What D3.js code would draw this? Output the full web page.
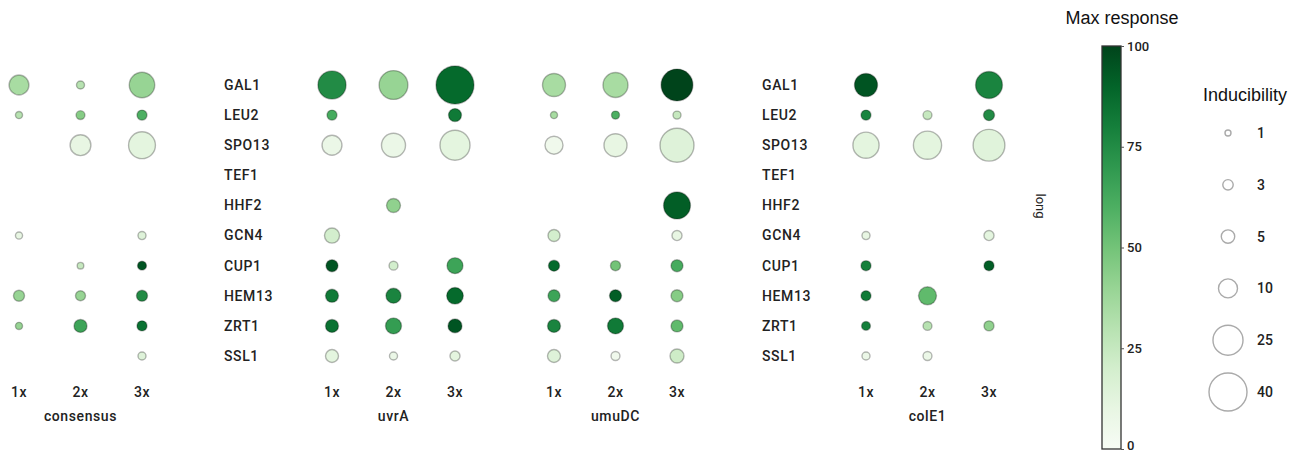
<!DOCTYPE html>
<html>
<head>
<meta charset="utf-8">
<script src="https://cdn.jsdelivr.net/npm/d3@7"></script>
<style>
  body { margin: 0; background: #fff; }
  svg { display: block; }
  .gene, .col, .panel, .leg-lab, .cbar-axis text { font-family: Roboto, "Noto Sans", sans-serif; fill: #222; }
  .gene { font-size: 14px; font-weight: 500; letter-spacing: 0.6px; }
  .col { font-size: 14px; font-weight: 500; letter-spacing: 0.6px; }
  .panel { font-size: 14px; font-weight: 500; letter-spacing: 0.6px; }
  .legtitle { font-family: "Liberation Sans", Arial, sans-serif; font-size: 18px; fill: #111; }
</style>
</head>
<body>
<div id="chart"></div>
<script>
// genes (rows) and conditions (columns per panel)
const genes = ["GAL1", "LEU2", "SPO13", "TEF1", "HHF2", "GCN4", "CUP1", "HEM13", "ZRT1", "SSL1"];
const copies = ["1x", "2x", "3x"];
const panelNames = ["consensus", "uvrA", "umuDC", "colE1"];

// inducibility (circle size), rows = genes, cols = 1x/2x/3x; null = no data
const consensusInd = [[11, 1.8, 18], [1.4, 2.2, 2.8], [null, 12, 20], [null, null, null], [null, null, null],
  [1.4, null, 1.8], [null, 1.2, 2.2], [3.4, 2.8, 3.4], [1.4, 4.7, 2.8], [null, null, 1.8]];
const uvrAInd = [[22, 23, 40], [2.8, null, 4.7], [11, 16, 25], [null, null, null], [null, 5.4, null],
  [6.3, null, null], [4, 2.2, 7.1], [4.7, 6.3, 7.7], [4.7, 7.1, 5.4], [4.7, 1.8, 2.8]];
const umuDCInd = [[14.7, 17.4, 28], [1.4, 1.8, 1.8], [9, 14.7, 32], [null, null, null], [null, null, 20],
  [4, null, 2.8], [3.4, 2.8, 4], [4, 4, 4], [4.7, 7.1, 4], [4.7, 2.2, 5.4]];
const colE1Ind = [[14.7, null, 20], [2.8, 2.2, 3.4], [19, 22, 28], [null, null, null], [null, null, null],
  [1.8, null, 2.8], [2.8, null, 2.8], [2.8, 9, null], [2.2, 2.2, 2.8], [1.8, 2.2, null]];

// max response (circle colour)
const consensusMax = [[35, 30, 40], [30, 45, 60], [null, 10, 12], [null, null, null], [null, null, null],
  [10, null, 15], [null, 25, 95], [40, 40, 75], [40, 65, 85], [null, null, 15]];
const uvrAMax = [[75, 40, 88], [62, null, 82], [8, 8, 12], [null, null, null], [null, 42, null],
  [20, null, null], [95, 20, 65], [82, 78, 88], [85, 68, 95], [12, 8, 12]];
const umuDCMax = [[35, 35, 100], [35, 60, 25], [5, 10, 15], [null, null, null], [null, null, 92],
  [20, null, 10], [88, 50, 62], [65, 92, 45], [78, 82, 55], [15, 5, 22]];
const colE1Max = [[95, null, 78], [78, 25, 75], [12, 12, 14], [null, null, null], [null, null, null],
  [10, null, 12], [80, null, 92], [82, 55, null], [80, 30, 42], [8, 8, null]];

const legendSizes = [1, 3, 5, 10, 25, 40];
const colorTicks = [0, 25, 50, 75, 100];

const W = 1303, H = 454;
const svg = d3.select("#chart").append("svg").attr("width", W).attr("height", H);

const inds = [consensusInd, uvrAInd, umuDCInd, colE1Ind];
const maxs = [consensusMax, uvrAMax, umuDCMax, colE1Max];
const panelX = [19, 332, 554, 866]; // x of the 1x column

const y = d3.scalePoint().domain(genes).range([85, 356]);
const r = d3.scaleSqrt().domain([0, 40]).range([0, 19]);
const color = d3.scaleSequential(d3.interpolateGreens).domain([0, 100]);

// gene label columns
[224, 762].forEach(gx => {
  svg.append("g").selectAll("text").data(genes).enter().append("text")
    .attr("class", "gene").attr("x", gx).attr("y", d => y(d)).attr("dy", "0.35em")
    .text(d => d);
});

panelNames.forEach((p, i) => {
  const x = d3.scalePoint().domain(copies).range([panelX[i], panelX[i] + 123]);
  const g = svg.append("g");
  const pts = [];
  genes.forEach((gn, gi) => copies.forEach((c, ci) => {
    const v = inds[i][gi][ci];
    if (v != null) pts.push({gene: gn, copy: c, ind: v, max: maxs[i][gi][ci]});
  }));
  g.selectAll("circle").data(pts).enter().append("circle")
    .attr("cx", d => x(d.copy)).attr("cy", d => y(d.gene)).attr("r", d => r(d.ind))
    .attr("fill", d => color(d.max))
    .attr("stroke", "rgba(0,0,0,0.28)").attr("stroke-width", 1.4);
  g.selectAll("text.col").data(copies).enter().append("text")
    .attr("class", "col").attr("x", d => x(d)).attr("y", 392).attr("dy", "0.35em")
    .attr("text-anchor", "middle").text(d => d);
  g.append("text").attr("class", "panel").attr("x", x("2x")).attr("y", 416).attr("dy", "0.35em")
    .attr("text-anchor", "middle").text(p);
});

svg.append("text").attr("transform", "translate(1036,206) rotate(90)")
  .attr("text-anchor", "middle").attr("font-family", "Roboto, sans-serif").attr("font-size", 13)
  .attr("fill", "#222").text("long");

// colour bar
const defs = svg.append("defs");
const grad = defs.append("linearGradient").attr("id", "cbar").attr("x1", 0).attr("x2", 0).attr("y1", 1).attr("y2", 0);
d3.range(0, 1.01, 0.1).forEach(t => grad.append("stop").attr("offset", t).attr("stop-color", d3.interpolateGreens(t)));
const cy = d3.scaleLinear().domain([0, 100]).range([449, 46]);
svg.append("rect").attr("x", 1102).attr("y", cy(100)).attr("width", 19).attr("height", cy(0) - cy(100))
  .attr("fill", "url(#cbar)").attr("stroke", "#333").attr("stroke-width", 1.3);
const ax = svg.append("g").attr("class", "cbar-axis").attr("transform", "translate(1121,0)")
  .call(d3.axisRight(cy).tickValues(colorTicks).tickSize(3).tickPadding(3));
ax.select(".domain").remove();
ax.selectAll("text").attr("font-size", 13).attr("font-weight", 500);
ax.selectAll(".tick").filter(d => d === 0).select("text").attr("dy", "0.05em");
ax.selectAll("line").attr("stroke", "#555");
svg.append("text").attr("class", "legtitle").attr("x", 1122).attr("y", 18).attr("dy", "0.35em")
  .attr("text-anchor", "middle").text("Max response");

// size legend
svg.append("text").attr("class", "legtitle").attr("x", 1245).attr("y", 95).attr("dy", "0.35em")
  .attr("text-anchor", "middle").text("Inducibility");
const ly = d3.scalePoint().domain(legendSizes).range([133, 392]);
const lg = svg.append("g");
lg.selectAll("circle").data(legendSizes).enter().append("circle")
  .attr("cx", 1228).attr("cy", d => ly(d)).attr("r", d => r(d))
  .attr("fill", "none").attr("stroke", "#aaa").attr("stroke-width", 1.4);
lg.selectAll("text").data(legendSizes).enter().append("text")
  .attr("class", "leg-lab").attr("x", 1257).attr("y", d => ly(d)).attr("dy", "0.35em")
  .attr("font-size", 14).attr("font-weight", 500).text(d => d);
</script>
</body>
</html>
